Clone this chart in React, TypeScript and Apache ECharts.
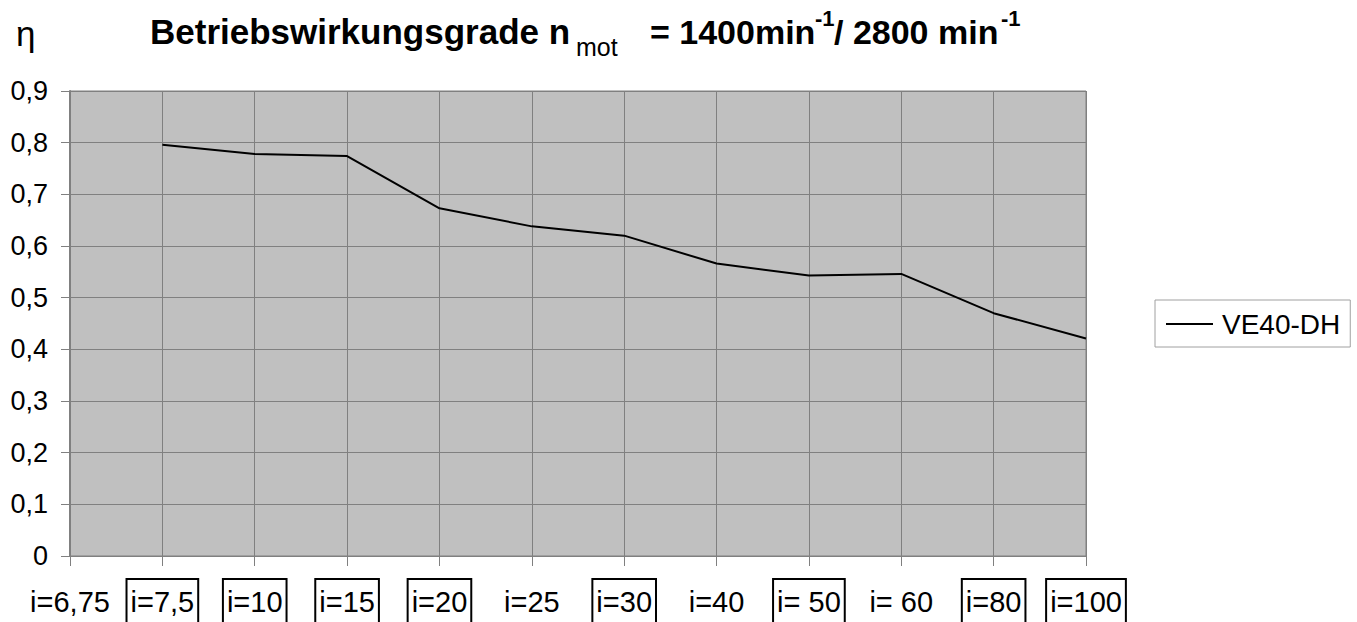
import React, { useEffect, useRef } from "react";
import * as echarts from "echarts";

const xCategories = ["i=6,75", "i=7,5", "i=10", "i=15", "i=20", "i=25", "i=30", "i=40", "i= 50", "i= 60", "i=80", "i=100"];
const xBoxed = [false, true, true, true, true, false, true, false, true, false, true, true];
const seriesName = "VE40-DH";
const seriesValues: (number | null)[] = [null, 0.796, 0.778, 0.774, 0.673, 0.638, 0.62, 0.566, 0.543, 0.546, 0.47, 0.421];
const yTickLabels = ["0", "0,1", "0,2", "0,3", "0,4", "0,5", "0,6", "0,7", "0,8", "0,9"];

const SANS = '"Liberation Sans", Arial, sans-serif';

export default function App() {
  const ref = useRef<HTMLDivElement>(null);
  useEffect(() => {
    if (!ref.current) return;
    const chart = echarts.init(ref.current, null, { renderer: "svg" });
    const labelBase = {
      fontSize: 29,
      fontFamily: SANS,
      color: "#000",
      lineHeight: 29,
      padding: [8, 4, 30, 4],
    };
    chart.setOption({
      animation: false,
      backgroundColor: "#ffffff",
      grid: {
        left: 70,
        right: 271,
        top: 91,
        bottom: 66,
        show: true,
        backgroundColor: "#c0c0c0",
        borderColor: "#808080",
        borderWidth: 1,
        containLabel: false,
        outerBoundsMode: "none",
      },
      legend: {
        left: 1155,
        top: 300,
        orient: "vertical",
        padding: [10, 10, 9, 11],
        borderColor: "#a0a0a0",
        borderWidth: 1,
        itemWidth: 47,
        itemHeight: 14,
        textStyle: { fontSize: 28, fontFamily: SANS, color: "#000", padding: [0, 0, 0, 4] },
        data: [{ name: seriesName, icon: "path://M0,0 L100,0 L100,4 L0,4 Z", itemStyle: { color: "#000" } }],
      },
      xAxis: {
        type: "category",
        data: xCategories,
        boundaryGap: false,
        axisLine: { show: true, lineStyle: { color: "#808080", width: 1 } },
        axisTick: { show: true, length: 10, interval: 0, lineStyle: { color: "#808080" } },
        splitLine: { show: true, interval: 0, lineStyle: { color: "#808080", width: 1 } },
        axisLabel: {
          interval: 0,
          margin: 42,
          formatter: (v: string, idx: number) => (xBoxed[idx] ? `{b|${v}}` : `{p|${v}}`),
          rich: {
            b: { ...labelBase, borderColor: "#000", borderWidth: 2 },
            p: { ...labelBase },
          },
        },
      },
      yAxis: {
        type: "value",
        min: 0,
        max: 0.9,
        interval: 0.1,
        axisLine: { show: true, lineStyle: { color: "#808080", width: 2 } },
        axisTick: { show: true, length: 9, lineStyle: { color: "#808080" } },
        splitLine: { show: true, lineStyle: { color: "#808080", width: 1 } },
        axisLabel: {
          margin: 22,
          fontSize: 27,
          fontFamily: SANS,
          color: "#000",
          formatter: (v: number) => yTickLabels[Math.round(v * 10)] ?? "",
        },
      },
      series: [
        {
          name: seriesName,
          type: "line",
          data: seriesValues,
          symbol: "none",
          lineStyle: { color: "#000", width: 2 },
          itemStyle: { color: "#000" },
        },
      ],
      graphic: [
        { type: "text", style: { x: 16, y: 33, text: "η", font: `35px ${SANS}`, fill: "#000", verticalAlign: "middle" } },
        { type: "text", style: { x: 150, y: 31, text: "Betriebswirkungsgrade n", font: `bold 35px ${SANS}`, fill: "#000", verticalAlign: "middle" } },
        { type: "text", style: { x: 576, y: 47, text: "mot", font: `25px ${SANS}`, fill: "#000", verticalAlign: "middle" } },
        { type: "text", style: { x: 650, y: 32, text: "= 1400min", font: `bold 34px ${SANS}`, fill: "#000", verticalAlign: "middle" } },
        { type: "text", style: { x: 815, y: 18, text: "-1", font: `bold 22px ${SANS}`, fill: "#000", verticalAlign: "middle" } },
        { type: "text", style: { x: 834, y: 32, text: "/ 2800 min", font: `bold 34px ${SANS}`, fill: "#000", verticalAlign: "middle" } },
        { type: "text", style: { x: 1001, y: 18, text: "-1", font: `bold 22px ${SANS}`, fill: "#000", verticalAlign: "middle" } },
      ],
    });
    return () => chart.dispose();
  }, []);
  return (
    <div
      ref={ref}
      style={{ position: "absolute", left: 0, top: 0, width: 1357, height: 622, background: "#fff" }}
    />
  );
}
